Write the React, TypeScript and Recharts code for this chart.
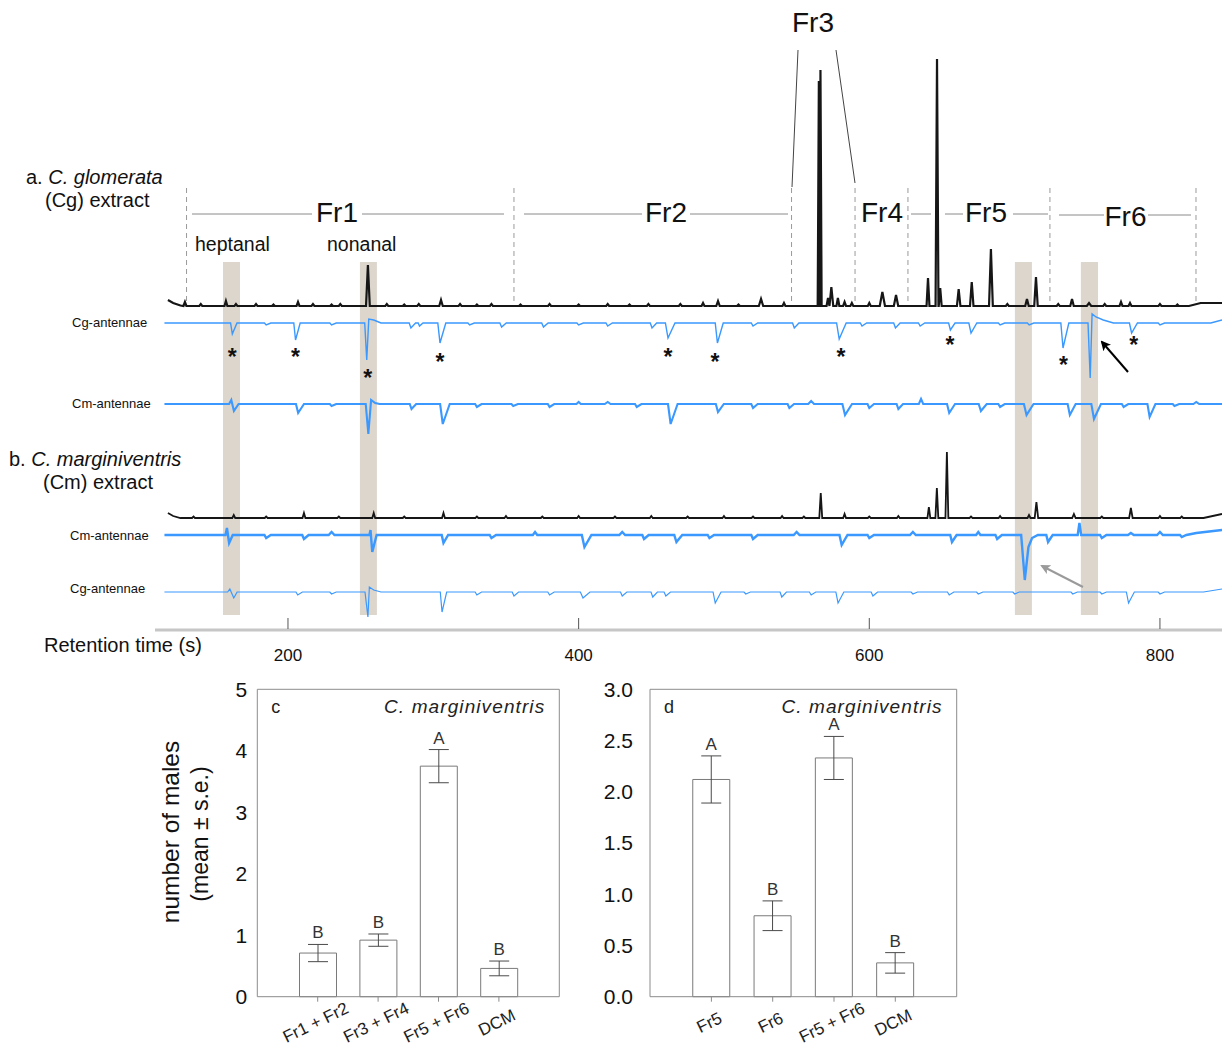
import React from 'react';
import {
  LineChart, Line, XAxis, YAxis, ReferenceArea, ReferenceLine, ReferenceDot,
  BarChart, Bar, ErrorBar, LabelList,
} from 'recharts';

const FONT = '"Liberation Sans", Arial, Helvetica, sans-serif';
const INK = '#161616';
const BLUE = '#3a98ff';
const AXIS = '#8c8c8c';

// [retention time (s), amplitude, half width]
type Peak = [number, number, number];
type Pt = [number, number];

// ---- a. C. glomerata extract, FID ----
const cgFidPeaks: Peak[] = [
  [129.1, 4, 1], [140, 2, 1], [157.3, 5, 1], [164.2, 2, 1], [178, 2, 1], [190, 1.5, 1],
  [206.9, 4, 1], [217.2, 2, 1], [230, 1.5, 1], [236, 2, 1], [255, 41, 1.3], [268, 2, 1],
  [280, 1.5, 1], [290, 2, 1], [305.3, 6, 1.2], [318.4, 2, 1], [330, 1.5, 1], [340, 2, 1],
  [360, 1.5, 1], [380, 2, 1], [400, 1.5, 1], [420, 2, 1], [435, 1.5, 1], [448, 2, 1],
  [470, 2, 1], [485.6, 3, 1], [495.9, 5, 1.2], [510, 1.5, 1], [525.5, 7, 1.5], [541.3, 3, 1],
  [565.3, 225, 0.8], [566.4, 236, 0.8], [571.6, 8, 1], [573.9, 19, 1.3], [578.4, 8, 1],
  [583, 4, 1], [588, 3, 1], [600, 3, 1], [609, 14, 1.8], [618.4, 11, 1.5],
  [640.4, 28, 1], [646.6, 247, 1], [648.8, 18, 1], [661.5, 17, 1.2], [670.5, 24, 1.2],
  [683.7, 57, 1.3], [695, 2, 1], [708.5, 7, 1.2], [714.7, 29, 1.2], [730, 2, 1],
  [739.5, 7, 1.2], [751.2, 3, 1.5], [762, 2, 1], [773.2, 4, 1], [779.4, 3, 1], [800, 2, 1], [812, 1.5, 1],
];
const cgFidExtra: Pt[] = [[117.4, 6], [121, 3], [126, 0.5], [820, 0], [828, 3], [842.7, 3]];

// ---- a. Cg-antennae EAD ----
const cgEadAPeaks: Peak[] = [
  [161.7, -11, 2], [185, -2, 2], [205.2, -17, 2], [230, -2, 2], [284.6, -5, 2], [290.5, -3, 1.5],
  [304.6, -20, 2.5], [325, -2, 2], [347, -4, 2], [375.8, -4, 2], [400, -2, 2], [420, -3, 2],
  [450.5, -5, 2], [461.5, -15, 3], [495.5, -20, 2.5], [520, -3, 2], [548.4, -5, 2],
  [579.3, -16, 3], [595, -3, 2], [618, -5, 2], [635, -3, 2], [655.8, -7, 2], [670, -10, 2.5],
  [690, -2, 2], [710, -2, 2], [733.3, -25, 2.5], [780.5, -10, 2.5], [800, -2, 2],
];
const cgEadAExtra: Pt[] = [
  [115, 0], [252.8, 0], [254.2, -37], [255.6, 4], [259, 3], [264, 0],
  [750.5, 0], [752, -55], [753.3, 9], [756, 6], [761, 3], [768, 0], [835, 0], [842.7, 3],
];

// ---- a. Cm-antennae EAD ----
const cmEadAPeaks: Peak[] = [
  [207, -9, 2.5], [230, -2, 2], [285, -5, 2], [306.5, -20, 3], [330, -3, 2], [355, -2, 2],
  [380, -3, 2], [400, 2, 1.5], [420, 2, 2], [440, -3, 2], [463.3, -20, 3], [495.9, -8, 2.5],
  [520, -4, 2], [545, -4, 2], [560, 3, 2], [583.3, -11, 3], [600, -4, 2], [620, -5, 2],
  [635.6, 5, 1.5], [655, -9, 2.5], [676.8, -7, 2.5], [690, -3, 2], [708.2, -11, 3],
  [738, -11, 2.5], [754.6, -15, 3], [775, -3, 2], [792.9, -13, 2.5], [810, -2, 2], [825, 2, 2],
];
const cmEadAExtra: Pt[] = [
  [115, 0], [159.5, 0], [161, 4], [162.8, -7], [166, 0],
  [253.5, 0], [255.3, -30], [257.2, 4], [260, 1], [263, 0], [842.7, 0],
];

// ---- b. C. marginiventris extract, FID ----
const cmFidPeaks: Peak[] = [
  [135, 1.5, 1], [162.7, 3, 1], [185, 1.5, 1], [211, 5, 1], [235, 1.5, 1], [259, 5, 1], [280, 1.5, 1],
  [307, 5, 1], [330, 1.5, 1], [350, 2, 1], [375, 1.5, 1], [400, 2, 1], [425, 1.5, 1], [450, 2, 1],
  [475, 1.5, 1], [500, 2, 1], [520, 1.5, 1], [540, 2, 1], [555, 1.5, 1], [566.6, 25, 1], [583, 4, 1],
  [600, 1.5, 1], [620, 2, 1], [641, 11, 1], [646.5, 30, 1], [653.4, 66, 1], [670, 1.5, 1], [690, 2, 1],
  [709.9, 3, 1], [715, 16, 1.2], [740.8, 4, 1.2], [760, 1.5, 1], [780, 10, 1.2], [800, 2, 1], [815, 1.5, 1],
];
const cmFidExtra: Pt[] = [[117.4, 5], [121, 2], [126, 0], [830, 0], [842.7, 4]];

// ---- b. Cm-antennae EAD ----
const cmEadBPeaks: Peak[] = [
  [185, -3, 2], [211, -4, 2], [230, 3, 2], [307, -8, 2], [340, -3, 2], [370, 3, 1.5], [404, -12, 3],
  [430, 3, 2], [445, -4, 2], [467.3, -7, 2.5], [490, -3, 2], [520, -4, 2], [550, 3, 2], [581, -10, 2.5],
  [600, -3, 2], [630, 3, 2], [656.9, -7, 2], [675, 3, 1.5], [688, -4, 2], [723, -7, 2], [744.6, 12, 1.2],
  [760, -3, 2], [780, 2, 2], [800, 3, 2], [815, -2, 2],
];
const cmEadBExtra: Pt[] = [
  [115, 0], [157, 0], [158, 7], [159.5, -8], [162, 0], [256, 0], [256.8, 5], [258, -17], [261, 0],
  [704.5, 0], [707, -45], [709.5, -12], [712, -3], [716, 0], [825, 2], [842.7, 5],
];

// ---- b. Cg-antennae EAD ----
const cgEadBPeaks: Peak[] = [
  [206.7, -3, 2], [230, -2, 2], [306, -20, 2], [330, -3, 2], [355.5, -4, 2], [380, -3, 2], [403, -6, 3],
  [430, -4, 2], [451, -5, 2], [460, -4, 2], [494, -11, 2.5], [515, -2, 2], [539.8, -5, 2], [560, -3, 2],
  [578.5, -11, 2.5], [602.5, -4, 2], [630, -2, 2], [655, -3, 2], [675, -2, 2], [700, -2, 2], [740, -2, 2],
  [760, -2, 2], [778.4, -11, 2.5], [800, -2, 2],
];
const cgEadBExtra: Pt[] = [
  [115, 0], [158.5, 0], [160, 3], [162.7, -6], [165, 0], [253, 0], [255, -25], [256, 5], [259, 2], [264, 0],
  [830, 0], [842.7, 3],
];

// EAD-active compounds marked on the Cg-antennae trace (time, level relative to trace)
const asterisks: Pt[] = [
  [161.7, -29], [205.2, -29], [254.8, -50], [304.6, -34], [461.5, -29],
  [493.8, -34], [580.5, -29], [655.5, -17], [733.6, -37], [781.9, -17],
];

const TIME_TICKS = [200, 400, 600, 800];
const FRACTION_CUTS = [130.2, 355.5, 546.5, 590.2, 626.6, 724.3, 824.8];
const BANDS: Pt[] = [[155.3, 167], [249.5, 261.2], [700.2, 711.9], [745.6, 757.4]];

// trace baselines in plot units
const BASE = { cgFid: 324, cgEadA: 307, cmEadA: 226, cmFid: 112, cmEadB: 95, cgEadB: 38 };

// ---- bioassays ----
const cLabels = ['Fr1 + Fr2', 'Fr3 + Fr4', 'Fr5 + Fr6', 'DCM'];
const cMeans = [0.71, 0.92, 3.75, 0.46];
const cSE = [0.14, 0.1, 0.27, 0.12];
const cGroups = ['B', 'B', 'A', 'B'];
const cTicks = [0, 1, 2, 3, 4, 5];

const dLabels = ['Fr5', 'Fr6', 'Fr5 + Fr6', 'DCM'];
const dMeans = [2.12, 0.79, 2.33, 0.33];
const dSE = [0.23, 0.145, 0.21, 0.1];
const dGroups = ['A', 'B', 'A', 'B'];
const dTicks = [0, 0.5, 1, 1.5, 2, 2.5, 3];

function buildTrace(peaks: Peak[], extra: Pt[], base: number) {
  const pts: Pt[] = extra.slice();
  for (const [t, a, w] of peaks) {
    if (a < 0) pts.push([t - w * 0.6, 0], [t, a], [t + w * 1.6, 0]);
    else pts.push([t - w, 0], [t, a], [t + w, 0]);
  }
  pts.sort((p, q) => p[0] - q[0]);
  return pts.map(([t, v]) => ({ t, v: base + v }));
}

const traces = [
  { key: 'cgFid', data: buildTrace(cgFidPeaks, cgFidExtra, BASE.cgFid), color: INK, w: 2.2 },
  { key: 'cgEadA', data: buildTrace(cgEadAPeaks, cgEadAExtra, BASE.cgEadA), color: BLUE, w: 1.4 },
  { key: 'cmEadA', data: buildTrace(cmEadAPeaks, cmEadAExtra, BASE.cmEadA), color: BLUE, w: 2.1 },
  { key: 'cmFid', data: buildTrace(cmFidPeaks, cmFidExtra, BASE.cmFid), color: INK, w: 1.8 },
  { key: 'cmEadB', data: buildTrace(cmEadBPeaks, cmEadBExtra, BASE.cmEadB), color: BLUE, w: 2.4 },
  { key: 'cgEadB', data: buildTrace(cgEadBPeaks, cgEadBExtra, BASE.cgEadB), color: BLUE, w: 1.2 },
];

function TimeTick({ x, y, payload }: any) {
  return (
    <g>
      <line x1={x} x2={x} y1={y - 12} y2={y - 1} stroke="#555" />
      <text x={x} y={y + 31} textAnchor="middle" fontSize={17} fontFamily={FONT} fill="#111">
        {payload.value}
      </text>
    </g>
  );
}

function Star(p: any) {
  return (
    <text x={p.cx} y={p.cy + 13} textAnchor="middle" fontSize={23} fontWeight="bold" fontFamily={FONT} fill="#111">*</text>
  );
}

function TraceChart() {
  return (
    <LineChart width={1222} height={680} margin={{ top: 0, right: 0, bottom: 10, left: 155 }}>
      <XAxis
        dataKey="t" type="number" domain={[108.5, 842.7]} allowDataOverflow ticks={TIME_TICKS}
        height={40} axisLine={{ stroke: '#c6c6c6', strokeWidth: 3 }} tickLine={false}
        tickSize={0} tickMargin={0} tick={<TimeTick />}
      />
      <YAxis hide type="number" domain={[0, 630]} allowDataOverflow />
      {BANDS.map(([a, b]) => (
        <ReferenceArea key={a} x1={a} x2={b} y1={15} y2={368} fill="#ddd6cd" fillOpacity={1} stroke="none" />
      ))}
      {FRACTION_CUTS.map((t) => (
        <ReferenceLine key={t} segment={[{ x: t, y: 442 }, { x: t, y: 325 }]} stroke="#9a9a9a" strokeDasharray="5 4" />
      ))}
      {traces.map((tr) => (
        <Line
          key={tr.key} data={tr.data} dataKey="v" type="linear" stroke={tr.color}
          strokeWidth={tr.w} dot={false} isAnimationActive={false}
        />
      ))}
      {asterisks.map(([t, v]) => (
        <ReferenceDot key={t} x={t} y={BASE.cgEadA + v} r={0} shape={<Star />} />
      ))}
    </LineChart>
  );
}

function SlantTick({ x, y, payload }: any) {
  return (
    <text
      transform={`translate(${x - 2},${y + 19}) rotate(-26)`}
      textAnchor="middle" dominantBaseline="central" fontSize={17} fill="#222" fontFamily={FONT}
    >
      {payload.value}
    </text>
  );
}

interface PanelProps {
  left: number;
  width: number;
  marginLeft: number;
  marginRight: number;
  yAxisWidth: number;
  tickGap: number;
  pad: number;
  labels: string[];
  means: number[];
  se: number[];
  groups: string[];
  ticks: number[];
  decimals: number;
  letter: string;
}

const PANEL_H = 375;
const PANEL_TOP = 14.3;
const PANEL_BOTTOM = 53.3;

function BarPanel(props: PanelProps) {
  const { left, width, marginLeft, marginRight, yAxisWidth, tickGap, pad, labels, means, se, groups, ticks, decimals, letter } = props;
  const data = labels.map((name, i) => ({ name, mean: means[i], se: se[i], grp: groups[i] }));
  const yMax = ticks[ticks.length - 1];
  const plotLeft = marginLeft + yAxisWidth;
  const plotRight = width - marginRight;
  return (
    <div style={{ position: 'absolute', left, top: 675 }}>
      <BarChart
        width={width} height={PANEL_H} data={data}
        margin={{ top: PANEL_TOP, right: marginRight, bottom: PANEL_BOTTOM - 50, left: marginLeft }}
      >
        <XAxis
          dataKey="name" interval={0} padding={{ left: pad, right: pad }} height={50}
          axisLine={{ stroke: AXIS }} tickLine={{ stroke: AXIS }} tickSize={5} tickMargin={2} tick={<SlantTick />}
        />
        <YAxis
          type="number" domain={[0, yMax]} ticks={ticks} width={yAxisWidth} interval={0}
          tickFormatter={(v: number) => v.toFixed(decimals)}
          axisLine={{ stroke: AXIS }} tickLine={false} tickSize={4} tickMargin={tickGap}
          tick={{ fontSize: 21, fill: '#111', fontFamily: FONT }}
        />
        <Bar dataKey="mean" fill="#ffffff" stroke="#7a7a7a" barSize={37} isAnimationActive={false}>
          <ErrorBar dataKey="se" width={10} stroke="#4a4a4a" strokeWidth={1} />
          <LabelList
            dataKey="grp"
            content={(p: any) => {
              const perUnit = p.height / means[p.index];
              const top = p.y - se[p.index] * perUnit;
              return (
                <text x={p.x + p.width / 2} y={top - 6} textAnchor="middle" fontSize={17} fill="#333" fontFamily={FONT}>
                  {p.value}
                </text>
              );
            }}
          />
        </Bar>
      </BarChart>
      <svg width={width} height={PANEL_H} style={{ position: 'absolute', left: 0, top: 0, pointerEvents: 'none' }}>
        <polyline
          points={`${plotLeft},${PANEL_TOP} ${plotRight},${PANEL_TOP} ${plotRight},${PANEL_H - PANEL_BOTTOM}`}
          fill="none" stroke={AXIS}
        />
        <text x={plotLeft + 14} y={38} fontSize={18} fill="#222" fontFamily={FONT}>{letter}</text>
        <text x={plotRight - 14} y={38} textAnchor="end" fontSize={19} letterSpacing={1.1} fontStyle="italic" fill="#222" fontFamily={FONT}>
          C. marginiventris
        </text>
      </svg>
    </div>
  );
}

function Annotations() {
  const t = { fontFamily: FONT, fill: '#111' };
  const rule = { stroke: '#8a8a8a', strokeWidth: 1 };
  return (
    <svg width={1222} height={1050} style={{ position: 'absolute', left: 0, top: 0, pointerEvents: 'none' }}>
      <defs>
        <marker id="headK" markerWidth="10" markerHeight="10" refX="8" refY="5" orient="auto" markerUnits="userSpaceOnUse">
          <path d="M0,0 L10,5 L0,10 L2.5,5 z" fill="#000" />
        </marker>
        <marker id="headG" markerWidth="10" markerHeight="10" refX="8" refY="5" orient="auto" markerUnits="userSpaceOnUse">
          <path d="M0,0 L10,5 L0,10 L2.5,5 z" fill="#9a9a9a" />
        </marker>
      </defs>

      <text x={26} y={184} fontSize={20} {...t}>a. <tspan fontStyle="italic">C. glomerata</tspan></text>
      <text x={45} y={207} fontSize={20} {...t}>(Cg) extract</text>
      <text x={195} y={251} fontSize={19.5} {...t}>heptanal</text>
      <text x={327} y={251} fontSize={19.5} {...t}>nonanal</text>
      <text x={72} y={327} fontSize={13} {...t}>Cg-antennae</text>
      <text x={72} y={408} fontSize={13} {...t}>Cm-antennae</text>
      <text x={9} y={466} fontSize={20} {...t}>b. <tspan fontStyle="italic">C. marginiventris</tspan></text>
      <text x={43} y={489} fontSize={20} {...t}>(Cm) extract</text>
      <text x={70} y={540} fontSize={13} {...t}>Cm-antennae</text>
      <text x={70} y={593} fontSize={13} {...t}>Cg-antennae</text>
      <text x={44} y={652} fontSize={20} {...t}>Retention time (s)</text>

      <line x1={192} x2={312} y1={214} y2={214} {...rule} />
      <line x1={362} x2={504} y1={214} y2={214} {...rule} />
      <text x={337} y={222} fontSize={28} textAnchor="middle" {...t}>Fr1</text>
      <line x1={524} x2={642} y1={214} y2={214} {...rule} />
      <line x1={690} x2={788} y1={214} y2={214} {...rule} />
      <text x={666} y={222} fontSize={28} textAnchor="middle" {...t}>Fr2</text>
      <text x={813} y={32} fontSize={28} textAnchor="middle" {...t}>Fr3</text>
      <line x1={798} y1={50} x2={792} y2={187} stroke="#444" />
      <line x1={836} y1={50} x2={855} y2={183} stroke="#444" />
      <text x={882} y={222} fontSize={28} textAnchor="middle" {...t}>Fr4</text>
      <line x1={911} x2={931} y1={214} y2={214} {...rule} />
      <line x1={945} x2={963} y1={214} y2={214} {...rule} />
      <text x={986} y={222} fontSize={28} textAnchor="middle" {...t}>Fr5</text>
      <line x1={1013} x2={1048} y1={214} y2={214} {...rule} />
      <line x1={1059} x2={1104} y1={215} y2={215} {...rule} />
      <text x={1125.5} y={226} fontSize={28} textAnchor="middle" {...t}>Fr6</text>
      <line x1={1148} x2={1191} y1={215} y2={215} {...rule} />

      <line x1={1128} y1={372} x2={1102} y2={342} stroke="#000" strokeWidth={2} markerEnd="url(#headK)" />
      <line x1={1083} y1={587} x2={1042} y2={566} stroke="#9a9a9a" strokeWidth={2} markerEnd="url(#headG)" />

      <text transform="translate(170,832) rotate(-90)" textAnchor="middle" dominantBaseline="central" fontSize={24.5} {...t}>
        number of males
      </text>
      <text transform="translate(200,834) rotate(-90)" textAnchor="middle" dominantBaseline="central" fontSize={23} {...t}>
        (mean ± s.e.)
      </text>
    </svg>
  );
}

export default function App() {
  return (
    <div style={{ position: 'absolute', left: 0, top: 0, width: 1222, height: 1050, background: '#fff', fontFamily: FONT }}>
      <div style={{ position: 'absolute', left: 0, top: 0 }}>
        <TraceChart />
      </div>
      <BarPanel
        left={150} width={420} marginLeft={47.3} marginRight={10.7} yAxisWidth={60} tickGap={6} pad={30.2}
        labels={cLabels} means={cMeans} se={cSE} groups={cGroups} ticks={cTicks} decimals={0} letter="c"
      />
      <BarPanel
        left={590} width={380} marginLeft={5} marginRight={13.3} yAxisWidth={55} tickGap={13} pad={30.75}
        labels={dLabels} means={dMeans} se={dSE} groups={dGroups} ticks={dTicks} decimals={1} letter="d"
      />
      <Annotations />
    </div>
  );
}
